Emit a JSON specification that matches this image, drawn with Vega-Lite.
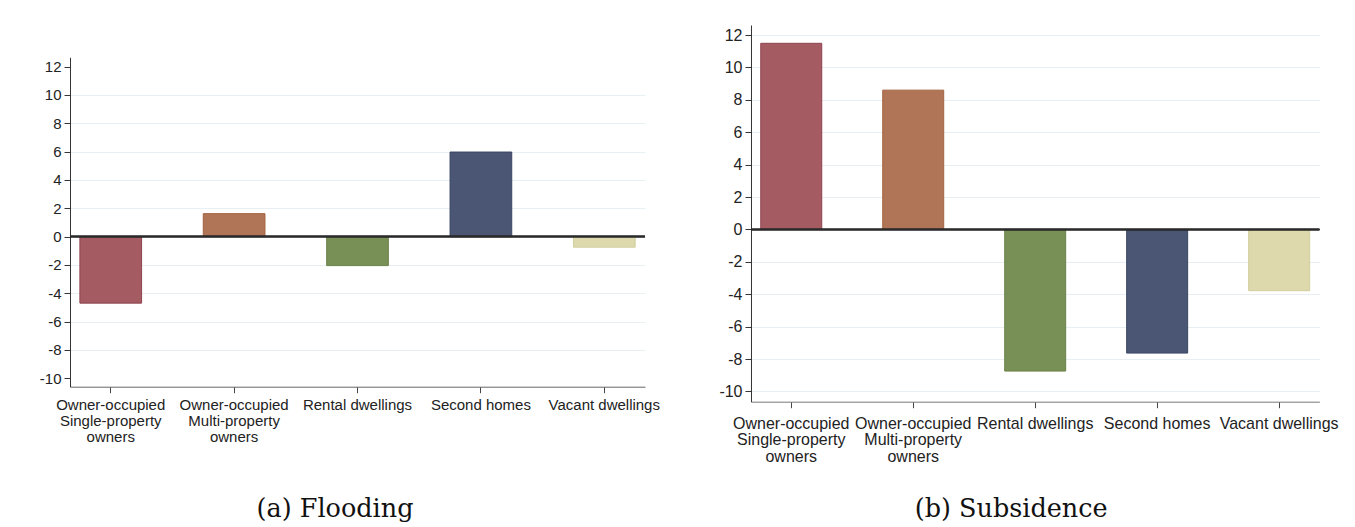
{
  "$schema": "https://vega.github.io/schema/vega-lite/v6.json",
  "background": "white",
  "padding": {"top": 25, "left": 39, "right": 5, "bottom": 0},
  "config": {
    "view": {"stroke": null},
    "axis": {
      "labelFont": "Liberation Sans",
      "labelColor": "#222222",
      "titleColor": "#111111",
      "titleFont": "DejaVu Serif",
      "titleFontWeight": "normal"
    }
  },
  "datasets": {
    "effects": [
      {"hazard": "Flooding", "order": 1, "category": "Owner-occupied|Single-property|owners", "effect": -4.7},
      {"hazard": "Flooding", "order": 2, "category": "Owner-occupied|Multi-property|owners", "effect": 1.62},
      {"hazard": "Flooding", "order": 3, "category": "Rental dwellings", "effect": -2.05},
      {"hazard": "Flooding", "order": 4, "category": "Second homes", "effect": 5.97},
      {"hazard": "Flooding", "order": 5, "category": "Vacant dwellings", "effect": -0.75},
      {"hazard": "Subsidence", "order": 1, "category": "Owner-occupied|Single-property|owners", "effect": 11.49},
      {"hazard": "Subsidence", "order": 2, "category": "Owner-occupied|Multi-property|owners", "effect": 8.6},
      {"hazard": "Subsidence", "order": 3, "category": "Rental dwellings", "effect": -8.74},
      {"hazard": "Subsidence", "order": 4, "category": "Second homes", "effect": -7.63},
      {"hazard": "Subsidence", "order": 5, "category": "Vacant dwellings", "effect": -3.78}
    ]
  },
  "spacing": 58,
  "hconcat": [
    {
      "width": 575,
      "height": 376.7,
      "data": {"name": "effects"},
      "transform": [{"filter": "datum.hazard === 'Flooding'"}],
      "encoding": {
        "y": {
          "field": "effect",
          "type": "quantitative",
          "scale": {"domain": [-10.6, 12.66], "range": [361.7, 32.3], "nice": false, "zero": false},
          "axis": {
            "title": null,
            "values": [-10, -8, -6, -4, -2, 0, 2, 4, 6, 8, 10, 12],
            "labelExpr": "toString(datum.value)",
            "labelFontSize": 15,
            "labelPadding": 3,
            "tickSize": 6,
            "tickColor": "#333333",
            "domainColor": "#333333",
            "grid": true,
            "gridColor": "#e8eff2",
            "gridOpacity": {"condition": {"test": "datum.value > 11 || datum.value < -9", "value": 0}, "value": 1}
          }
        }
      },
      "layer": [
        {
          "mark": {"type": "bar", "strokeWidth": 1},
          "encoding": {
            "x": {
              "field": "category",
              "type": "nominal",
              "sort": {"field": "order"},
              "scale": {"paddingInner": 0.5, "paddingOuter": 0.08},
              "axis": {
                "offset": -15,
                "title": "(a) Flooding",
                "titleFontSize": 25.5,
                "titleX": 264.5,
                "titleY": 130,
                "titleAlign": "center",
                "titleBaseline": "alphabetic",
                "labelAngle": 0,
                "labelFontSize": 15,
                "labelLineHeight": 16,
                "labelPadding": 4.5,
                "labelLimit": 300,
                "labelExpr": "split(datum.label, '|')",
                "domainColor": "#666666",
                "tickColor": "#444444",
                "tickSize": 6,
                "grid": false
              }
            },
            "fill": {
              "field": "category",
              "type": "nominal",
              "sort": {"field": "order"},
              "scale": {"range": ["#a45c62", "#b07556", "#788f56", "#4b5674", "#ddd9ad"]},
              "legend": null
            },
            "stroke": {
              "field": "category",
              "type": "nominal",
              "sort": {"field": "order"},
              "scale": {"range": ["#8f4250", "#a3623f", "#6b8249", "#3a4563", "#d2ce9c"]},
              "legend": null
            }
          }
        },
        {
          "mark": {"type": "rule", "color": "#2a2a2a", "strokeWidth": 1.5},
          "encoding": {"y": {"datum": 0}}
        }
      ]
    },
    {
      "width": 568.4,
      "height": 376.7,
      "data": {"name": "effects"},
      "transform": [{"filter": "datum.hazard === 'Subsidence'"}],
      "encoding": {
        "y": {
          "field": "effect",
          "type": "quantitative",
          "scale": {"domain": [-10.63, 12.62], "nice": false, "zero": false},
          "axis": {
            "title": null,
            "values": [-10, -8, -6, -4, -2, 0, 2, 4, 6, 8, 10, 12],
            "labelExpr": "toString(datum.value)",
            "labelFontSize": 16,
            "labelPadding": 3,
            "tickSize": 6,
            "tickColor": "#333333",
            "domainColor": "#333333",
            "grid": true,
            "gridColor": "#e8eff2"
          }
        }
      },
      "layer": [
        {
          "mark": {"type": "bar", "strokeWidth": 1},
          "encoding": {
            "x": {
              "field": "category",
              "type": "nominal",
              "sort": {"field": "order"},
              "scale": {"paddingInner": 0.5, "paddingOuter": 0.08},
              "axis": {
                "title": "(b) Subsidence",
                "titleFontSize": 25.5,
                "titleX": 259.7,
                "titleY": 115,
                "titleAlign": "center",
                "titleBaseline": "alphabetic",
                "labelAngle": 0,
                "labelFontSize": 16,
                "labelLineHeight": 16.7,
                "labelPadding": 7.5,
                "labelLimit": 300,
                "labelExpr": "split(datum.label, '|')",
                "domainColor": "#777777",
                "tickColor": "#444444",
                "tickSize": 6,
                "grid": false
              }
            },
            "fill": {
              "field": "category",
              "type": "nominal",
              "sort": {"field": "order"},
              "scale": {"range": ["#a45c62", "#b07556", "#788f56", "#4b5674", "#ddd9ad"]},
              "legend": null
            },
            "stroke": {
              "field": "category",
              "type": "nominal",
              "sort": {"field": "order"},
              "scale": {"range": ["#8f4250", "#a3623f", "#6b8249", "#3a4563", "#d2ce9c"]},
              "legend": null
            }
          }
        },
        {
          "mark": {"type": "rule", "color": "#2a2a2a", "strokeWidth": 1.5},
          "encoding": {"y": {"datum": 0}}
        }
      ]
    }
  ],
  "resolve": {"scale": {"fill": "independent", "stroke": "independent"}}
}
